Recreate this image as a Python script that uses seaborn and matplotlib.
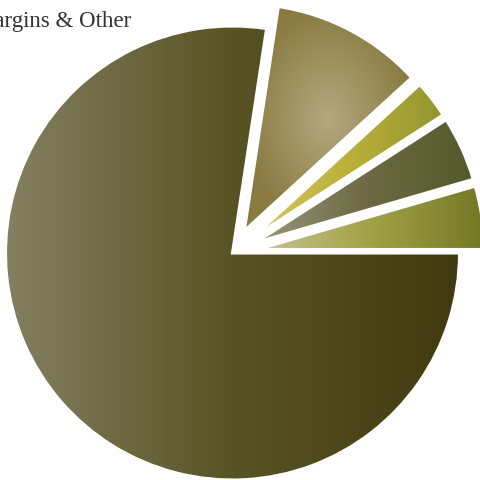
import numpy as np
import seaborn as sns
import matplotlib.pyplot as plt

# --- data (counter-clockwise from 3 o'clock) ---
shares = [4.5, 4.6, 2.7, 10.8, 77.4]
explode = [0.11, 0.11, 0.11, 0.11, 0.0]
label_text = "Margins & Other"

# gradient stops per slice (left -> right), slice 4 is radial (centre -> edge)
grad_colors = [
    ["#c9c492", "#a3a145", "#737826"],
    ["#9b977c", "#6d6a44", "#525a2a"],
    ["#d6c566", "#bcb03a", "#939530"],
    ["#b3a97f", "#8a7b42"],
    ["#847f60", "#585324", "#413a10"],
]
radial = [False, False, False, True, False]

sns.set_theme(style="white")

fig = plt.figure(figsize=(4.81, 4.80), dpi=100)
ax = fig.add_axes([0, 0, 1, 1])

wedges, _ = ax.pie(shares, explode=explode, startangle=0, counterclock=True,
                   wedgeprops=dict(edgecolor="white", linewidth=2.2))

for w, cols, rad in zip(wedges, grad_colors, radial):
    cmap = sns.blend_palette(cols, as_cmap=True)
    bb = w.get_path().get_extents()
    if rad:
        xx, yy = np.meshgrid(np.linspace(-1, 1, 300), np.linspace(-1, 1, 300))
        img = np.clip(np.sqrt(xx ** 2 + yy ** 2) / 1.0, 0, 1)
    else:
        img = np.linspace(0, 1, 300).reshape(1, -1)
    im = ax.imshow(img, cmap=cmap, extent=[bb.x0, bb.x1, bb.y0, bb.y1],
                   aspect="auto", origin="lower", interpolation="bilinear", zorder=1)
    im.set_clip_path(w)
    w.set_facecolor("none")
    w.set_zorder(2)

# centre of the pie at (232.5, 253) px, radius 227 px
cx, cy, r = 232.5, 253.0, 227.0

ax.text((131 - cx) / r, (cy - 26.5) / r, label_text, ha="right", va="baseline",
        fontsize=16.5, family="Liberation Serif", color="#333333")

ax.set_xlim(-cx / r, (481 - cx) / r)
ax.set_ylim(-(480 - cy) / r, cy / r)
ax.set_aspect("auto")
ax.axis("off")

fig.savefig("out.png", dpi=100)
